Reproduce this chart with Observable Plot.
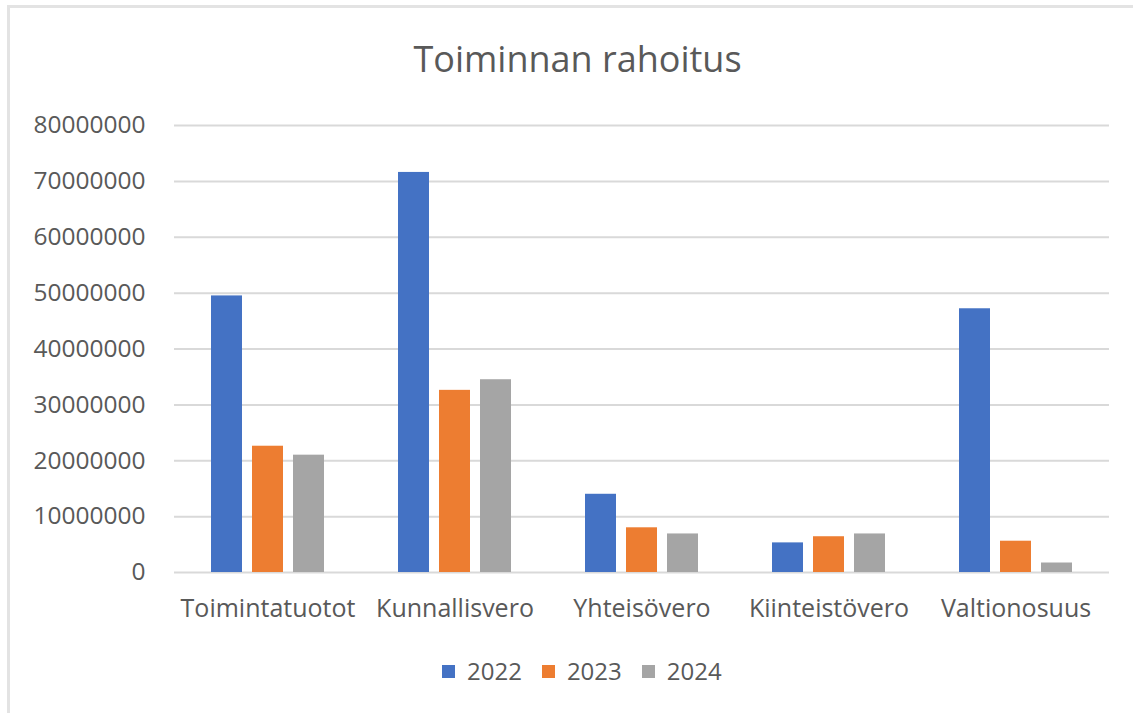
<!DOCTYPE html>
<html>
<head>
<meta charset="utf-8">
<script src="https://cdn.jsdelivr.net/npm/d3@7"></script>
<script src="https://cdn.jsdelivr.net/npm/@observablehq/plot@0.6"></script>
<style>
  html, body { margin: 0; padding: 0; background: #fff; }
  #wrap { position: relative; width: 1133px; height: 713px; overflow: hidden; font-family: "Open Sans", sans-serif; color: #595959; }
  #frame { position: absolute; left: 7px; top: 5px; width: 1200px; height: 800px; border-left: 3px solid #e3e3e3; border-top: 3px solid #e3e3e3; }
  #title { position: absolute; left: 0; width: 1155px; top: 38px; text-align: center; font-size: 36px; line-height: 42px; color: #595959; }
  #chart { position: absolute; left: 0; top: 100px; }
  #legend { position: absolute; left: 442px; top: 656px; display: flex; align-items: center; font-size: 24px; line-height: 30px; color: #595959; }
  .item { display: flex; align-items: center; margin-right: 20px; }
  .sw { width: 13px; height: 13px; margin-right: 12px; }
</style>
</head>
<body>
<div id="wrap">
  <div id="frame"></div>
  <div id="title">Toiminnan rahoitus</div>
  <div id="chart"></div>
  <div id="legend"></div>
</div>
<script>
const categories = ["Toimintatuotot", "Kunnallisvero", "Yhteisövero", "Kiinteistövero", "Valtionosuus"];
const years = ["2022", "2023", "2024"];
const values2022 = [49500000, 71600000, 14000000, 5300000, 47200000];
const values2023 = [22600000, 32600000, 8000000, 6400000, 5600000];
const values2024 = [21000000, 34500000, 6900000, 6900000, 1700000];
const colors = ["#4472C4", "#ED7D31", "#A5A5A5"];
const yTicks = [0, 10000000, 20000000, 30000000, 40000000, 50000000, 60000000, 70000000, 80000000];

const series = [values2022, values2023, values2024];
const data = [];
categories.forEach((c, i) => {
  years.forEach((y, j) => data.push({category: c, year: y, value: series[j][i]}));
});

const chart = Plot.plot({
  width: 1133,
  height: 530,
  marginTop: 25,
  marginBottom: 58,
  marginLeft: 172,
  marginRight: 22,
  style: {fontFamily: "'Open Sans', sans-serif", color: "#595959", background: "transparent"},
  fx: {domain: categories, padding: 0, label: null},
  x: {domain: years, paddingInner: 0.24, paddingOuter: 0.86, axis: null},
  y: {domain: [0, 80000000], label: null},
  color: {domain: years, range: colors},
  marks: [
    Plot.gridY(yTicks, {stroke: "#d9d9d9", strokeOpacity: 1, strokeWidth: 2}),
    Plot.barY(data, {fx: "category", x: "year", y: "value", fill: "year"}),
    Plot.axisY(yTicks, {tickSize: 0, tickPadding: 29, tickFormat: d => String(d), fontSize: 24.5, fill: "#595959", label: null}),
    Plot.axisFx({anchor: "bottom", tickSize: 0, tickPadding: 27, fontSize: 25, fill: "#595959", label: null})
  ]
});
document.getElementById("chart").appendChild(chart);

const legend = document.getElementById("legend");
years.forEach((y, i) => {
  const item = document.createElement("div");
  item.className = "item";
  const sw = document.createElement("div");
  sw.className = "sw";
  sw.style.background = colors[i];
  const t = document.createElement("span");
  t.textContent = y;
  item.appendChild(sw);
  item.appendChild(t);
  legend.appendChild(item);
});
</script>
</body>
</html>
